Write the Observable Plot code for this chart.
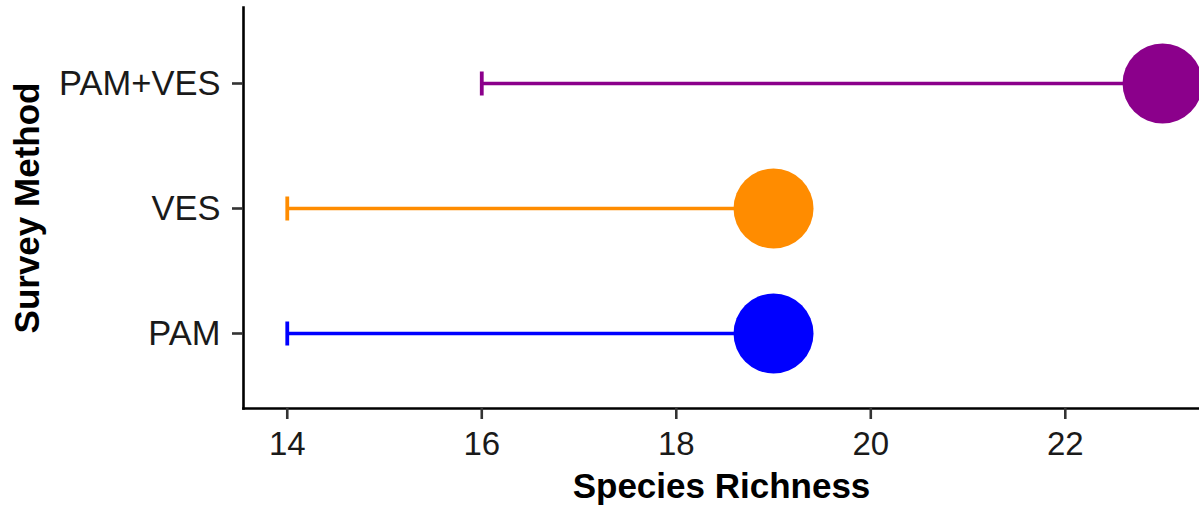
<!DOCTYPE html>
<html>
<head>
<meta charset="utf-8">
<script src="https://cdn.jsdelivr.net/npm/d3@7"></script>
<script src="https://cdn.jsdelivr.net/npm/@observablehq/plot@0.6"></script>
<style>
  html, body { margin: 0; padding: 0; background: #fff; }
  #chart { width: 1199px; height: 510px; }
</style>
</head>
<body>
<div id="chart"></div>
<script>
const methods = ["PAM", "VES", "PAM+VES"];
const lowValues = [14, 14, 16];
const richness = [19, 19, 23];
const colors = ["#0000FF", "#FF8C00", "#8B008B"];
const xTicks = [14, 16, 18, 20, 22];

const data = methods.map((m, i) => ({method: m, low: lowValues[i], value: richness[i], color: colors[i]}));

const capSymbol = {
  draw(context, size) {
    context.moveTo(0, -12);
    context.lineTo(0, 12);
  }
};

const chart = Plot.plot({
  width: 1199,
  height: 510,
  marginLeft: 243,
  marginRight: 0,
  marginTop: 7,
  marginBottom: 102,
  style: {fontFamily: "'Liberation Sans', Arial, sans-serif", background: "#fff", color: "#000"},
  x: {domain: [13.55, 23.38], ticks: xTicks},
  y: {type: "point", domain: ["PAM+VES", "VES", "PAM"], padding: 0.6},
  marks: [
    Plot.link(data, {x1: "low", x2: "value", y1: "method", y2: "method", stroke: d => d.color, strokeWidth: 3.6}),
    Plot.dot(data, {x: "low", y: "method", symbol: capSymbol, r: 5, fill: "none", stroke: d => d.color, strokeWidth: 3.8}),
    Plot.dot(data, {x: "value", y: "method", r: 40, fill: d => d.color, stroke: "none"}),
    Plot.frame({anchor: "left", stroke: "#000", strokeWidth: 2.6}),
    Plot.frame({anchor: "bottom", stroke: "#000", strokeWidth: 2.6}),
    Plot.axisX(xTicks, {tickSize: 11, tickPadding: 12, fontSize: 33, stroke: "#333", strokeWidth: 2.6, fill: "#1a1a1a", label: null}),
    Plot.axisY({tickSize: 11, tickPadding: 12, fontSize: 34.5, stroke: "#333", strokeWidth: 2.6, fill: "#1a1a1a", label: null}),
    Plot.text(["Species Richness"], {frameAnchor: "bottom", dy: 78, lineAnchor: "middle", textAnchor: "middle", fontSize: 35, fontWeight: "bold", fill: "#000"}),
    Plot.text(["Survey Method"], {frameAnchor: "left", dx: -216, rotate: -90, lineAnchor: "middle", textAnchor: "middle", fontSize: 35, fontWeight: "bold", fill: "#000"})
  ]
});
document.getElementById("chart").appendChild(chart);
</script>
</body>
</html>
